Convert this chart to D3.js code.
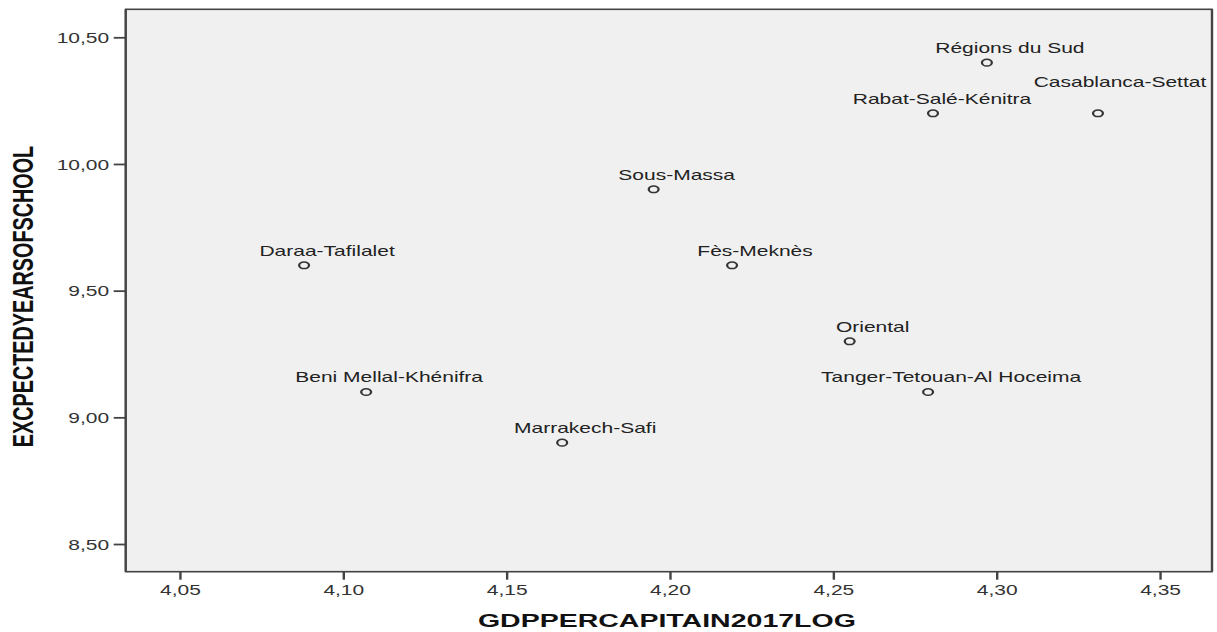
<!DOCTYPE html>
<html>
<head>
<meta charset="utf-8">
<script src="https://cdn.jsdelivr.net/npm/d3@7/dist/d3.min.js"></script>
<style>
  html, body { margin: 0; padding: 0; background: #ffffff; }
  svg { display: block; }
  text { font-family: Arial, "Liberation Sans", sans-serif; }
</style>
</head>
<body>
<div id="chart"></div>
<script>
// ---------- data ----------
const regions = [
  "Régions du Sud", "Rabat-Salé-Kénitra", "Casablanca-Settat", "Sous-Massa",
  "Daraa-Tafilalet", "Fès-Meknès", "Oriental", "Beni Mellal-Khénifra",
  "Tanger-Tetouan-Al Hoceima", "Marrakech-Safi"
];
const gdpLog = [4.297, 4.2805, 4.331, 4.195, 4.088, 4.219, 4.255, 4.107, 4.279, 4.167];
const schoolYears = [10.40, 10.20, 10.20, 9.90, 9.60, 9.60, 9.30, 9.10, 9.10, 8.90];
const xTicks = [4.05, 4.10, 4.15, 4.20, 4.25, 4.30, 4.35];
const yTicks = [8.50, 9.00, 9.50, 10.00, 10.50];
const xTitle = "GDPPERCAPITAIN2017LOG";
const yTitle = "EXCPECTEDYEARSOFSCHOOL";

// ---------- layout ----------
(function () {
const W = 1217, H = 632;
const SX = 1.5; // horizontal stretch of the original picture
const pL = 125.7, pR = 1212, pT = 9.3, pB = 571.7;

const svg = d3.select("#chart").append("svg").attr("width", W).attr("height", H);

const x = d3.scaleLinear().domain([4.0334, 4.3659]).range([pL, pR]);
const y = d3.scaleLinear().domain([8.3907, 10.6105]).range([pB, pT]);
const fmt = d => d3.format(".2f")(d).replace(".", ",");

// plot background and frame
svg.append("rect").attr("x", pL).attr("y", pT)
  .attr("width", pR - pL).attr("height", pB - pT)
  .attr("fill", "#f0f0f0").attr("stroke", "#444").attr("stroke-width", 1.6);
[pL, pR].forEach(xx => svg.append("line")
  .attr("x1", xx).attr("x2", xx).attr("y1", pT).attr("y2", pB)
  .attr("stroke", "#444").attr("stroke-width", 2.4));

// x axis
const gx = svg.append("g").attr("transform", `translate(0,${pB})`)
  .call(d3.axisBottom(x).tickValues(xTicks).tickFormat(fmt).tickSize(8).tickSizeOuter(0));
gx.select(".domain").remove();
gx.selectAll(".tick line").attr("stroke", "#444").attr("stroke-width", 2.4);
gx.selectAll(".tick text").attr("y", 23).attr("dy", "0")
  .attr("transform", `scale(${SX},1)`)
  .attr("font-size", 14).attr("fill", "#333");

// y axis
const gy = svg.append("g").attr("transform", `translate(${pL},0)`)
  .call(d3.axisLeft(y).tickValues(yTicks).tickFormat(fmt).tickSize(12).tickSizeOuter(0));
gy.select(".domain").remove();
gy.selectAll(".tick line").attr("stroke", "#444").attr("stroke-width", 1.8);
gy.selectAll(".tick text").attr("x", -16.5 / SX).attr("dy", "0.36em")
  .attr("transform", `scale(${SX},1)`)
  .attr("font-size", 14).attr("fill", "#333");

// axis titles
svg.append("text")
  .attr("transform", `translate(${(pL + pR) / 2 - 2},627) scale(${SX},1)`)
  .attr("text-anchor", "middle").attr("font-size", 19).attr("font-weight", "bold")
  .attr("fill", "#111").text(xTitle);
svg.append("text")
  .attr("transform", `translate(33,296.5) scale(${SX},1) rotate(-90)`)
  .attr("text-anchor", "middle").attr("font-size", 19.8).attr("font-weight", "bold")
  .attr("fill", "#111").text(yTitle);

// points
const pts = regions.map((name, i) => ({ name, gx: gdpLog[i], sy: schoolYears[i] }));

svg.append("g").selectAll("g.pt").data(pts).join("g")
  .attr("class", "pt")
  .attr("transform", d => `translate(${x(d.gx)},${y(d.sy)}) scale(${SX},1)`)
  .append("circle").attr("r", 3.3)
  .attr("fill", "none").attr("stroke", "#333").attr("stroke-width", 1.5);

// labels (SPSS-style: right-shifted, with collision nudges)
const nudge = {
  "Rabat-Salé-Kénitra": [-14, 0],
  "Casablanca-Settat": [-1, -17]
};
svg.append("g").selectAll("text.lbl").data(pts).join("text")
  .attr("class", "lbl")
  .attr("transform", d => {
    const n = nudge[d.name] || [0, 0];
    return `translate(${x(d.gx) + 23 + n[0]},${y(d.sy) - 9.5 + n[1]}) scale(${SX},1)`;
  })
  .attr("text-anchor", "middle").attr("font-size", 14).attr("fill", "#222")
  .text(d => d.name);
})();
</script>
</body>
</html>
